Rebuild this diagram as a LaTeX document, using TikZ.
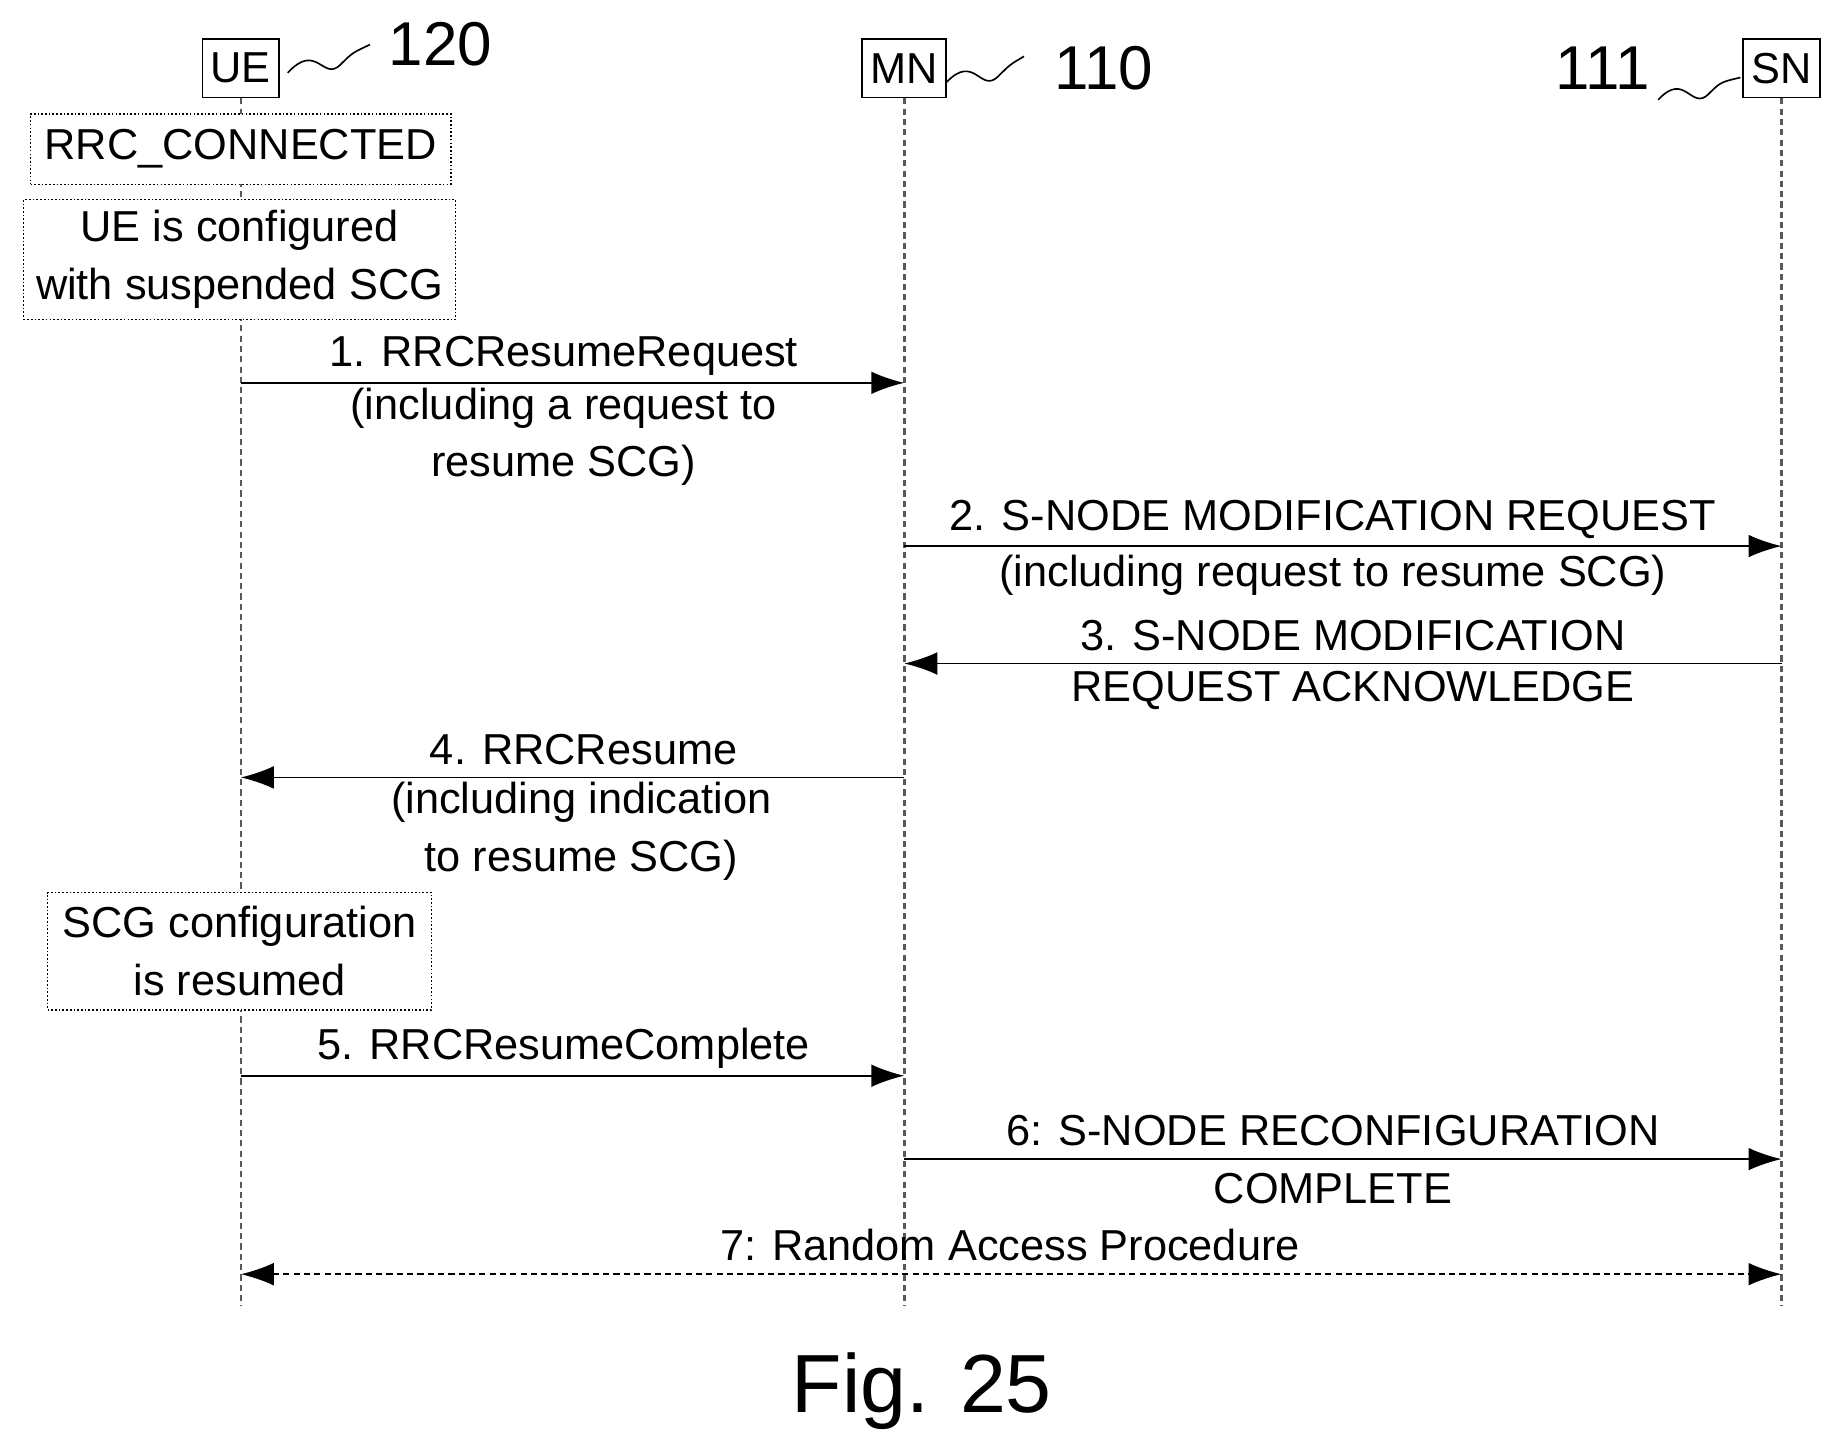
\documentclass[tikz,border=0pt]{standalone}
\usepackage{fontspec}
\setmainfont{Liberation Sans}
\usetikzlibrary{arrows.meta}

\begin{document}
\begin{tikzpicture}[x=0.02cm, y=-0.02cm,
  every node/.style={font=\fontsize{21}{28}\selectfont, align=center, inner sep=2pt},
  entity/.style={draw, thick, minimum height=1cm, inner sep=4pt},
  note/.style={draw, densely dotted, thick, fill=white, minimum height=1.2cm},
  life/.style={densely dashed, gray!70!black, line width=1.2pt},
  msg/.style={thick, -{Latex[length=16pt, width=11pt]}},
  ref/.style={font=\fontsize{30}{36}\selectfont}]
\useasboundingbox (0,0) rectangle (1560,1230);

\node[entity] (UE) at (205,58) {UE};
\node[entity] (MN) at (770,58) {MN};
\node[entity] (SN) at (1517,58) {SN};
\coordinate (UEend) at (205,1112);
\coordinate (MNend) at (770,1112);
\coordinate (SNend) at (1517,1112);

\draw[life] (UE) -- (UEend);
\draw[life] (MN) -- (MNend);
\draw[life] (SN) -- (SNend);

% reference numerals
\node[ref] (n120) at (375,38) {120};
\node[ref] (n110) at (940,58) {110};
\node[ref] (n111) at (1365,58) {111};
\draw[thick] (245,62) .. controls (270,35) and (275,70) .. (290,55) .. controls (300,45) .. (315,38);
\draw[thick] (806,70) .. controls (830,45) and (835,80) .. (850,65) .. controls (860,55) .. (872,48);
\draw[thick] (1412,85) .. controls (1435,60) and (1440,95) .. (1455,80) .. controls (1465,70) .. (1482,66);

% states
\node[note, minimum width=7.16cm] (conn) at (205,127) {RRC\_CONNECTED};
\node[note, minimum width=7.36cm, minimum height=2.04cm] (susp) at (204,221) {UE is configured\\with suspended SCG};
\node[note, minimum width=6.54cm, minimum height=2cm] (resd) at (204,810) {SCG configuration\\is resumed};

% message coordinates
\coordinate (u1) at (205,326); \coordinate (m1) at (770,326);
\coordinate (m2) at (770,465); \coordinate (s2) at (1517,465);
\coordinate (s3) at (1517,565); \coordinate (m3) at (770,565);
\coordinate (m4) at (770,662); \coordinate (u4) at (205,662);
\coordinate (u5) at (205,916); \coordinate (m5) at (770,916);
\coordinate (m6) at (770,987); \coordinate (s6) at (1517,987);
\coordinate (u7) at (205,1085); \coordinate (s7) at (1517,1085);

\draw[msg] (u1) -- (m1);
\draw[msg] (m2) -- (s2);
\draw[msg] (s3) -- (m3);
\draw[msg] (m4) -- (u4);
\draw[msg] (u5) -- (m5);
\draw[msg] (m6) -- (s6);
\draw[msg, densely dashed, {Latex[length=16pt, width=11pt]}-{Latex[length=16pt, width=11pt]}] (u7) -- (s7);

% message labels
\node (t1) at (480,303) {1. RRCResumeRequest};
\node (t1b) at (480,372) {(including a request to\\resume SCG)};
\node (t2) at (1135,442) {2. S-NODE MODIFICATION REQUEST};
\node (t2b) at (1135,490) {(including request to resume SCG)};
\node (t3) at (1152,541) {3. S-NODE MODIFICATION};
\node (t3b) at (1152,588) {REQUEST ACKNOWLEDGE};
\node (t4) at (497,638) {4. RRCResume};
\node (t4b) at (495,708) {(including indication\\to resume SCG)};
\node (t5) at (480,893) {5. RRCResumeComplete};
\node (t6) at (1135,963) {6: S-NODE RECONFIGURATION};
\node (t6b) at (1135,1012) {COMPLETE};
\node (t7) at (860,1060) {7: Random Access Procedure};

\node[font=\fontsize{40}{48}\selectfont] (fig) at (785,1185) {Fig. 25};
\end{tikzpicture}
\end{document}
